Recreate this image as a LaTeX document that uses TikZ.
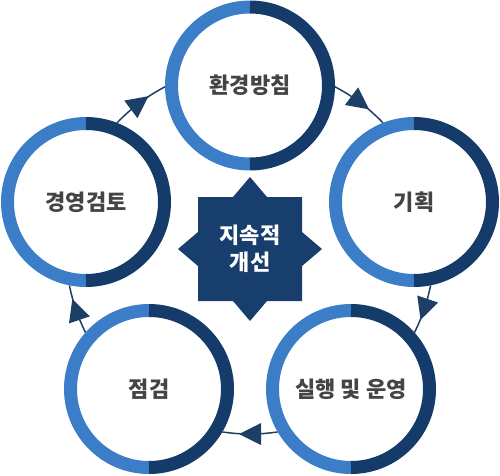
\documentclass[tikz,border=0pt]{standalone}
\usepackage{fontspec}
\setmainfont{Noto Sans CJK KR}
\usetikzlibrary{calc,decorations.markings}
\definecolor{ringlight}{HTML}{3B7DC6}
\definecolor{ringdark}{HTML}{143B6A}
\definecolor{starfill}{HTML}{183E6E}
\definecolor{linecol}{HTML}{1D3F66}
\definecolor{txt}{HTML}{444444}
\begin{document}
\begin{tikzpicture}[x=1pt,y=1pt,
  conn/.style={draw=linecol, line width=1.5pt, postaction={decorate},
    decoration={markings, mark=at position 0.5 with {\fill[linecol] (11pt,0pt) -- (-11pt,11pt) -- (-11pt,-11pt) -- cycle;}}},
  cnode/.style={circle, fill=white, minimum size=170pt, inner sep=0pt,
    font=\fontsize{22pt}{26pt}\selectfont\bfseries, text=txt},
  ringL/.style={draw=ringlight, line width=13pt},
  ringD/.style={draw=ringdark, line width=13pt},
  starbox/.style={fill=starfill},
  centertext/.style={text=white, align=center, font=\fontsize{22pt}{27pt}\selectfont\bfseries}]
\useasboundingbox (0,0) rectangle (500,475);
\coordinate (O) at (250,225);
% connector end points on the big circle
\coordinate (q1) at ($(O)+(90:184pt)$);
\coordinate (q2) at ($(O)+(16.3:184pt)$);
\coordinate (q3) at ($(O)+(-54:184pt)$);
\coordinate (q4) at ($(O)+(-126:184pt)$);
\coordinate (q5) at ($(O)+(163.7:184pt)$);
\draw[conn] (q1) arc[start angle=90, end angle=16.3, radius=184pt];
\draw[conn] (q2) arc[start angle=16.3, end angle=-54, radius=184pt];
\draw[conn] (q3) arc[start angle=-54, end angle=-126, radius=184pt];
\draw[conn] (q4) arc[start angle=-126, end angle=-196.3, radius=184pt];
\draw[conn] (q5) arc[start angle=163.7, end angle=90, radius=184pt];
% circles
\node[cnode] (n1) at (250,389.5) {환경방침};
\node[cnode] (n2) at (414,273) {기획};
\node[cnode] (n3) at (351,86) {실행 및 운영};
\node[cnode] (n4) at (149,86) {점검};
\node[cnode] (n5) at (86,273) {경영검토};
\foreach \n in {n1,n2,n3,n4,n5}{
  \draw[ringL] ($(\n.center)+(90:78.5pt)$) arc[start angle=90, end angle=270, radius=78.5pt];
  \draw[ringD] ($(\n.center)+(-90:78.5pt)$) arc[start angle=-90, end angle=90, radius=78.5pt];
}
% central star
\begin{scope}[shift={(250,226)}]
\fill[starbox] (-52,-52) -- (-17,-52) -- (0,-72) -- (17,-52) -- (52,-52) -- (52,-17) -- (72,0) -- (52,17) -- (52,52) -- (17,52) -- (0,72) -- (-17,52) -- (-52,52) -- (-52,17) -- (-72,0) -- (-52,-17) -- cycle;
\end{scope}
\node[centertext] (ctr) at (250,226) {지속적\\개선};
\end{tikzpicture}
\end{document}
